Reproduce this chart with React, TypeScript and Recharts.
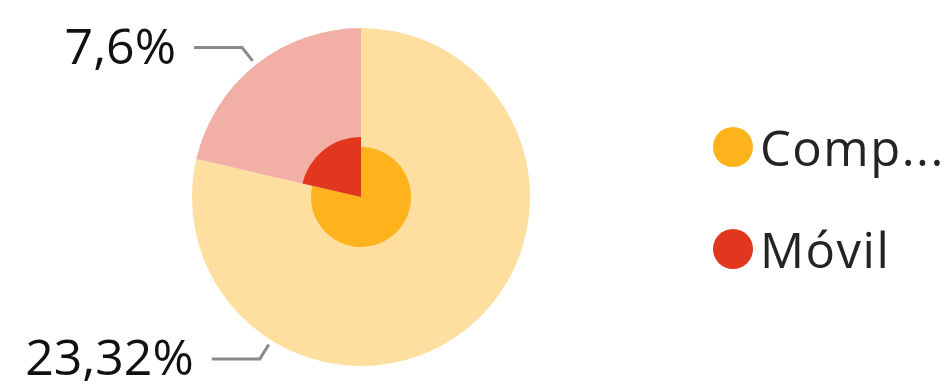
import { PieChart, Pie, Cell, Legend } from 'recharts'

const categories = ['Comp...', 'Móvil']
// share of the circle taken by each slice
const shares = [78.6, 21.4]
const labelTexts = ['23,32%', '7,6%']

const lightColors = ['#FEDFA0', '#F2AFA6']
const darkColors = ['#FEB31C', '#E2371F']

// Power BI pushes the big slice's label to the lower left
const labelAngles: (number | null)[] = [-122, null]

const data = categories.map((name, i) => ({
  name,
  value: shares[i],
  label: labelTexts[i],
}))

const RADIAN = Math.PI / 180

function SliceLabel(props: any) {
  const { cx, cy, outerRadius, midAngle, index } = props
  const angle = labelAngles[index] ?? midAngle
  const cos = Math.cos(-angle * RADIAN)
  const sin = Math.sin(-angle * RADIAN)
  const sx = cx + (outerRadius + 5) * cos
  const sy = cy + (outerRadius + 5) * sin
  const mx = cx + (outerRadius + 22) * cos
  const my = cy + (outerRadius + 22) * sin
  const ex = mx - 48
  return (
    <g>
      <polyline
        points={`${sx},${sy} ${mx},${my} ${ex},${my}`}
        fill="none"
        stroke="#8A8A8A"
        strokeWidth={3}
      />
      <text
        x={ex - 18}
        y={my + 3}
        textAnchor="end"
        dominantBaseline="middle"
        fontSize={50}
        fontFamily="'Segoe UI', 'Open Sans', sans-serif"
        fill="#111"
      >
        {labelTexts[index]}
      </text>
    </g>
  )
}

function LegendBox() {
  return (
    <div style={{ fontFamily: "'Segoe UI', 'Open Sans', sans-serif" }}>
      {categories.map((c, i) => (
        <div
          key={c}
          style={{ display: 'flex', alignItems: 'center', height: 102 }}
        >
          <span
            style={{
              display: 'inline-block',
              width: 40,
              height: 40,
              borderRadius: '50%',
              background: darkColors[i],
              marginRight: 7,
            }}
          />
          <span
            style={{
              fontSize: 49,
              color: '#252423',
              lineHeight: 1,
              letterSpacing: 1.5,
            }}
          >
            {c}
          </span>
        </div>
      ))}
    </div>
  )
}

export default function App() {
  return (
    <div style={{ position: 'absolute', left: 0, top: 0 }}>
      <PieChart
        width={948}
        height={387}
        margin={{ top: 0, right: 0, bottom: 0, left: 0 }}
      >
        <Pie
          data={data}
          dataKey="value"
          nameKey="name"
          cx={361}
          cy={197}
          outerRadius={169}
          startAngle={90}
          endAngle={-270}
          stroke="none"
          label={SliceLabel}
          labelLine={false}
          isAnimationActive={false}
        >
          {data.map((d, i) => (
            <Cell key={d.name} fill={lightColors[i]} />
          ))}
        </Pie>
        <Pie
          data={data}
          dataKey="value"
          cx={361}
          cy={197}
          outerRadius={50}
          startAngle={90}
          endAngle={-270}
          stroke="none"
          isAnimationActive={false}
        >
          {data.map((d, i) => (
            <Cell key={d.name} fill={i === 0 ? darkColors[0] : 'transparent'} />
          ))}
        </Pie>
        <Pie
          data={data}
          dataKey="value"
          cx={361}
          cy={197}
          outerRadius={60}
          startAngle={90}
          endAngle={-270}
          stroke="none"
          isAnimationActive={false}
        >
          {data.map((d, i) => (
            <Cell key={d.name} fill={i === 1 ? darkColors[1] : 'transparent'} />
          ))}
        </Pie>
        <Legend
          content={<LegendBox />}
          wrapperStyle={{ left: 713, top: 96, width: 235 }}
        />
      </PieChart>
    </div>
  )
}
